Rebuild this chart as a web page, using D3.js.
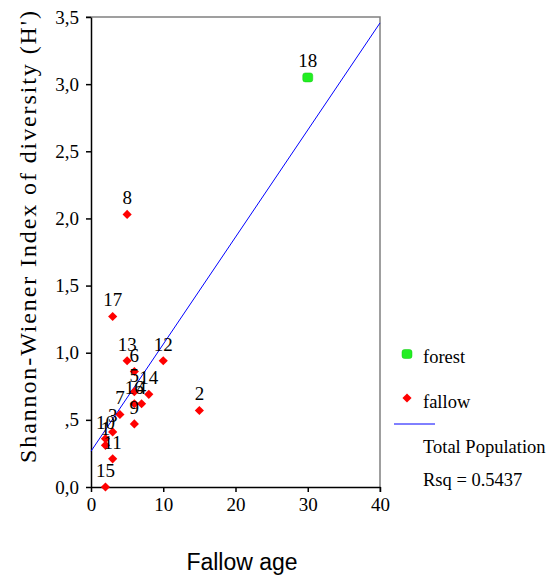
<!DOCTYPE html>
<html>
  <head>
    <meta charset="utf-8" />
    <title>Shannon-Wiener index vs fallow age</title>
    <script src="https://d3js.org/d3.v7.min.js"></script>
    <style>
      body { margin: 0; background: #fff; }
      svg text { font-family: "Liberation Serif", "Times New Roman", serif; fill: #000; }
      .axis path, .axis line { stroke: #000; stroke-width: 1.5; }
      .axis text { font-size: 19px; }
    </style>
  </head>
  <body>
    <svg width="549" height="575"></svg>
    <script>
      // plot numbers (fallow plots) and their values
      const plotIds = ["1","2","3","4","5","6","7","8","9","10","11","12","13","14","15","16","17"];
      const fallowAge = [2, 15, 3, 7, 6, 6, 4, 5, 6, 2, 3, 10, 5, 8, 2, 6, 3];
      const fallowH = [0.31, 0.57, 0.41, 0.62, 0.71, 0.86, 0.54, 2.03, 0.47, 0.36, 0.21, 0.94, 0.94, 0.69, 0.0, 0.62, 1.27];
      // forest plot
      const forestIds = ["18"];
      const forestAge = [30];
      const forestH = [3.05];

      const xTicks = [0, 10, 20, 30, 40];
      const yTicks = [0, 0.5, 1, 1.5, 2, 2.5, 3, 3.5];
      const yTickLabels = ["0,0", ",5", "1,0", "1,5", "2,0", "2,5", "3,0", "3,5"];
      const rsqLabel = "Rsq = 0.5437";

      const svg = d3.select("svg");
      const margin = { top: 17, right: 169, bottom: 88, left: 91 };
      const width = +svg.attr("width") - margin.left - margin.right;
      const height = +svg.attr("height") - margin.top - margin.bottom;
      const g = svg.append("g")
        .attr("transform", "translate(" + margin.left + "," + margin.top + ")");

      const x = d3.scaleLinear().domain([0, 40]).range([0, width]);
      const y = d3.scaleLinear().domain([0, 3.5]).range([height, 0]);

      // gray frame top and right
      g.append("path")
        .attr("d", "M" + (-5) + "," + y(3.5) + "H" + x(40) + "V" + (height + 5))
        .attr("fill", "none")
        .attr("stroke", "#808080")
        .attr("stroke-width", 1.5);

      // axes
      g.append("g")
        .attr("class", "axis")
        .attr("transform", "translate(0," + height + ")")
        .call(d3.axisBottom(x).tickValues(xTicks).tickSize(5).tickSizeOuter(0).tickPadding(6));

      g.append("g")
        .attr("class", "axis")
        .call(d3.axisLeft(y).tickValues(yTicks).tickSize(5).tickSizeOuter(0).tickPadding(7)
          .tickFormat((d, i) => yTickLabels[i]));

      // least-squares fit over all plots
      const allX = fallowAge.concat(forestAge);
      const allY = fallowH.concat(forestH);
      const mx = d3.mean(allX), my = d3.mean(allY);
      const sxy = d3.sum(allX, (v, i) => (v - mx) * (allY[i] - my));
      const sxx = d3.sum(allX, (v) => (v - mx) * (v - mx));
      const slope = sxy / sxx;
      const intercept = my - slope * mx;

      g.append("line")
        .attr("x1", x(0)).attr("y1", y(intercept))
        .attr("x2", x(40)).attr("y2", y(intercept + slope * 40))
        .attr("stroke", "#0000ff")
        .attr("stroke-width", 1);

      const diamond = d3.symbol(d3.symbolSquare, 42);

      // fallow points
      const fallow = fallowAge.map((a, i) => ({ id: plotIds[i], x: a, y: fallowH[i] }));
      g.selectAll(".fallow")
        .data(fallow)
        .join("path")
        .attr("class", "fallow")
        .attr("d", diamond)
        .attr("transform", (d) => "translate(" + x(d.x) + "," + y(d.y) + ") rotate(45)")
        .attr("fill", "#ff0000");

      // forest points
      const forest = forestAge.map((a, i) => ({ id: forestIds[i], x: a, y: forestH[i] }));
      g.selectAll(".forest")
        .data(forest)
        .join("rect")
        .attr("class", "forest")
        .attr("x", (d) => x(d.x) - 5)
        .attr("y", (d) => y(d.y) - 4.5)
        .attr("width", 10)
        .attr("height", 9)
        .attr("rx", 2.5)
        .attr("fill", "#22ee22")
        .attr("stroke", "#11cc11")
        .attr("stroke-width", 0.5);

      // point labels
      g.selectAll(".lbl")
        .data(fallow.concat(forest))
        .join("text")
        .attr("class", "lbl")
        .attr("x", (d) => x(d.x))
        .attr("y", (d) => y(d.y) - 10)
        .attr("text-anchor", "middle")
        .attr("font-size", 19)
        .text((d) => d.id);

      // axis titles
      svg.append("text")
        .attr("transform", "translate(36,237) rotate(-90)")
        .attr("text-anchor", "middle")
        .attr("font-size", 24)
        .attr("textLength", 452)
        .attr("lengthAdjust", "spacing")
        .text("Shannon-Wiener Index of diversity (H')");

      svg.append("text")
        .attr("x", 242)
        .attr("y", 570)
        .attr("text-anchor", "middle")
        .attr("font-size", 23)
        .style("font-family", "'Liberation Sans', Arial, sans-serif")
        .text("Fallow age");

      // legend
      const lg = svg.append("g").attr("transform", "translate(407,0)");
      lg.append("rect")
        .attr("x", -5).attr("y", 349.5).attr("width", 10).attr("height", 9).attr("rx", 2.5)
        .attr("fill", "#22ee22").attr("stroke", "#11cc11").attr("stroke-width", 0.5);
      lg.append("text").attr("x", 16).attr("y", 363).attr("font-size", 18.5).text("forest");
      lg.append("path")
        .attr("d", diamond)
        .attr("transform", "translate(0,398) rotate(45)")
        .attr("fill", "#ff0000");
      lg.append("text").attr("x", 16).attr("y", 408).attr("font-size", 18.5).text("fallow");
      lg.append("line")
        .attr("x1", -13).attr("x2", 28).attr("y1", 424).attr("y2", 424)
        .attr("stroke", "#0000ff").attr("stroke-width", 1);
      lg.append("text").attr("x", 16).attr("y", 453).attr("font-size", 18.5).text("Total Population");
      lg.append("text").attr("x", 16).attr("y", 486).attr("font-size", 18.5).text(rsqLabel);
    </script>
  </body>
</html>
